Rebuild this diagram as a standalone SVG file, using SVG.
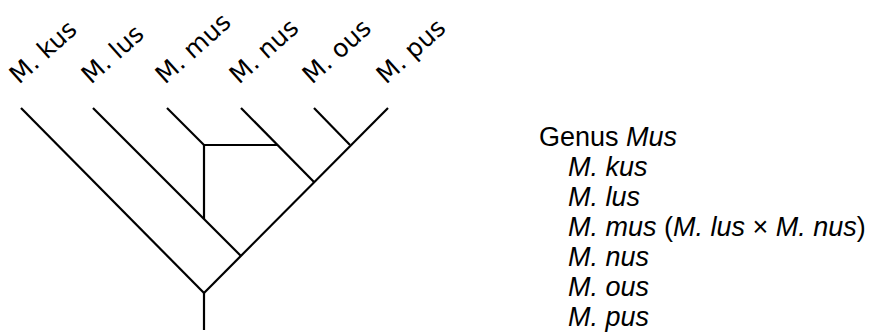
<svg xmlns="http://www.w3.org/2000/svg" width="876" height="336" viewBox="0 0 876 336">
<style>
.br{stroke:#000;stroke-width:2.2;fill:none;stroke-linecap:butt}
.lbl{font-family:"DejaVu Sans",sans-serif;font-size:25px;fill:#000}
.lst{font-family:"Liberation Sans",Arial,sans-serif;font-size:27px;fill:#000}
.i{font-style:italic}
</style>
<rect width="876" height="336" fill="#fff"/>
<g id="connectors">
<line class="br" x1="21" y1="108" x2="204" y2="293"/>
<line class="br" x1="388" y1="108" x2="204" y2="293"/>
<line class="br" x1="93" y1="108" x2="241" y2="256"/>
<line class="br" x1="241" y1="108" x2="314" y2="182"/>
<line class="br" x1="314" y1="108" x2="350" y2="145"/>
<line class="br" x1="167" y1="108" x2="204" y2="145"/>
<line class="br" x1="204" y1="145" x2="278" y2="145"/>
<line class="br" x1="204" y1="145" x2="204" y2="219"/>
<line class="br" x1="204" y1="293" x2="204" y2="330"/>
</g>
<g id="tip-labels">
<text class="lbl" transform="translate(19,85) rotate(-42)">M. kus</text>
<text class="lbl" transform="translate(91,85) rotate(-42)">M. lus</text>
<text class="lbl" transform="translate(165,85) rotate(-42)">M. mus</text>
<text class="lbl" transform="translate(239,85) rotate(-42)">M. nus</text>
<text class="lbl" transform="translate(312,85) rotate(-42)">M. ous</text>
<text class="lbl" transform="translate(386,85) rotate(-42)">M. pus</text>
</g>
<g id="classification">
<text class="lst" x="539" y="146">Genus <tspan class="i">Mus</tspan></text>
<text class="lst i" x="568" y="176">M. kus</text>
<text class="lst i" x="568" y="206">M. lus</text>
<text class="lst" x="568" y="236"><tspan class="i">M. mus</tspan> (<tspan class="i">M. lus</tspan> × <tspan class="i">M. nus</tspan>)</text>
<text class="lst i" x="568" y="266">M. nus</text>
<text class="lst i" x="568" y="296">M. ous</text>
<text class="lst i" x="568" y="326">M. pus</text>
</g>
</svg>
